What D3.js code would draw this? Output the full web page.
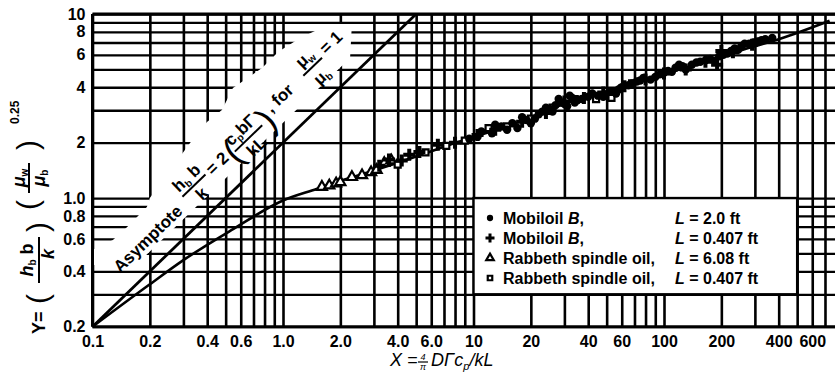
<!DOCTYPE html>
<html><head><meta charset="utf-8">
<script src="https://cdn.jsdelivr.net/npm/d3@7"></script>
<style>html,body{margin:0;padding:0;background:#fff;} svg{display:block;}</style>
</head><body>
<svg id="chart" width="835" height="377"></svg>
<script>
// ---------- data ----------
const xTickValues = [0.1,0.2,0.4,0.6,1,2,4,6,10,20,40,60,100,200,400,600];
const xTickLabels = ["0.1","0.2","0.4","0.6","1.0","2.0","4.0","6.0","10","20","40","60","100","200","400","600"];
const yTickValues = [0.2,0.4,0.6,0.8,1,2,4,6,8,10];
const yTickLabels = ["0.2","0.4","0.6","0.8","1.0","2","4","6","8","10"];
const xGridValues = [0.1,0.2,0.3,0.4,0.5,0.6,0.7,0.8,0.9,1,2,3,4,5,6,7,8,9,10,20,30,40,50,60,70,80,90,100,200,300,400,500,600,700,800];
const yGridValues = [0.2,0.3,0.4,0.5,0.6,0.7,0.8,0.9,1,2,3,4,5,6,7,8,9,10];

// asymptote Y = 2X
const asymX = [0.1, 5];
const asymY = [0.2, 10];
// correlation curve
const curveX = [0.1, 0.2, 0.3, 0.55, 1.0, 1.5, 2, 3, 5, 7, 10, 15, 20, 30, 50, 80, 125, 190, 280, 400, 740];
const curveY = [0.2, 0.34, 0.46, 0.68, 0.97, 1.12, 1.24, 1.41, 1.68, 1.9, 2.15, 2.45, 2.75, 3.25, 3.8, 4.4, 5.05, 5.75, 6.55, 7.3, 9.2];

// series
const mobil20X = [9.5,10.5,11,12.5,13,14,15,16,17,18,19,20,21,22,23,24,25,26,27,28,29,30,31,32,33,34,35,37,40,42,45,48,52,56,58,60,65,68,72,75,78,85,90,95,100,105,110,115,120,125,130,140,148,155,165,175,185,195,205,215,225,235,245,255,265,280,295,310,325,340,370];
const mobil20Y = [2.1,2.15,2.3,2.25,2.5,2.45,2.35,2.55,2.4,2.75,2.65,2.55,2.7,2.85,2.95,3.1,3.05,2.95,3.2,3.45,3.3,3.25,3.15,3.6,3.5,3.3,3.4,3.45,3.55,3.7,3.6,3.55,3.8,3.7,3.9,4.0,4.1,4.2,4.3,4.35,4.5,4.4,4.55,4.7,4.8,4.9,4.85,5.1,5.3,5.2,5.0,5.3,5.45,5.5,5.6,5.7,5.55,5.9,6.0,6.1,6.3,6.5,6.4,6.7,6.9,6.9,7.0,7.1,7.2,7.3,7.4];
const mobil04X = [3.2,3.6,4.2,4.6,5.2,6.5,8,10.5,13,18,24,30,38,48,62,80,100,130,165,190,200,230,290];
const mobil04Y = [1.5,1.62,1.6,1.72,1.78,1.95,2.0,2.2,2.35,2.6,2.9,3.35,3.5,3.75,4.05,4.4,4.75,5.0,5.5,5.3,6.3,6.2,6.8];
const rab608X = [1.6,1.75,1.9,2.0,2.3,2.6,2.9,3.1,3.4,3.7];
const rab608Y = [1.15,1.17,1.2,1.22,1.3,1.33,1.38,1.42,1.55,1.6];
const rab04X = [4.0,5.6,7.2,9,12,15,20,26,34,44,53,68];
const rab04Y = [1.52,1.77,1.92,2.05,2.4,2.45,2.7,3.1,3.45,3.45,3.5,4.2];

const legendNames = ["Mobiloil ", "Mobiloil ", "Rabbeth spindle oil,", "Rabbeth spindle oil,"];
const legendItalic = ["B", "B", "", ""];
const legendL = ["2.0 ft", "0.407 ft", "6.08 ft", "0.407 ft"];
const legendSymbols = ["circle", "plus", "triangle", "square"];

// white band behind the asymptote note (data units)
const bandX = [0.1,0.1,0.128,0.152,0.193,0.2,0.325,0.399,0.478,0.546,0.776,0.942,1.23,1.76,2.30,2.25,0.169];
const bandY = [0.433,0.522,0.592,0.696,0.894,1.0,1.99,2.59,3.01,3.96,5.09,6.22,7.41,8.83,8.83,5.77,0.433];
// legend box corners (data units)
const legendBoxX = [10, 500];
const legendBoxY = [0.3, 1.0];

// ---------- drawing ----------
const svg = d3.select("#chart");
const x = d3.scaleLog().domain([0.1, 1000]).range([92.5, 854.5]);
const y = d3.scaleLog().domain([0.2, 10]).range([326.7, 14]);
const FONT = "'Liberation Sans', Arial, sans-serif";

// grid via axes
svg.append("g").attr("transform", `translate(0,${y(0.2)})`)
  .call(d3.axisBottom(x).tickValues(xGridValues).tickSize(-(y(0.2) - y(10))).tickFormat(""))
  .call(g => g.select(".domain").remove())
  .call(g => g.selectAll("line").attr("stroke", "#000").attr("stroke-width", 2.6));
svg.append("g").attr("transform", `translate(${x(0.1)},0)`)
  .call(d3.axisLeft(y).tickValues(yGridValues).tickSize(-(x(1000) - x(0.1))).tickFormat(""))
  .call(g => g.select(".domain").remove())
  .call(g => g.selectAll("line").attr("stroke", "#000").attr("stroke-width", 2.3));

// white band
svg.append("path")
  .attr("d", d3.line()(bandX.map((d, i) => [x(d), y(bandY[i])])) + "Z")
  .attr("fill", "#fff");

// legend box
svg.append("rect")
  .attr("x", x(legendBoxX[0])).attr("y", y(legendBoxY[1]))
  .attr("width", x(legendBoxX[1]) - x(legendBoxX[0]))
  .attr("height", y(legendBoxY[0]) - y(legendBoxY[1]))
  .attr("fill", "#fff").attr("stroke", "#000").attr("stroke-width", 2.4);

// frame
svg.append("line").attr("x1", x(0.1)).attr("x2", x(0.1)).attr("y1", y(10)).attr("y2", y(0.2)).attr("stroke", "#000").attr("stroke-width", 3);
svg.append("line").attr("x1", x(0.1)).attr("x2", 840).attr("y1", y(0.2)).attr("y2", y(0.2)).attr("stroke", "#000").attr("stroke-width", 3);
svg.append("line").attr("x1", x(0.1)).attr("x2", 840).attr("y1", y(10)).attr("y2", y(10)).attr("stroke", "#000").attr("stroke-width", 3);

// lines
const lineGen = d3.line().x(d => x(d[0])).y(d => y(d[1]));
svg.append("path").attr("d", lineGen(asymX.map((d, i) => [d, asymY[i]])))
  .attr("fill", "none").attr("stroke", "#000").attr("stroke-width", 2.8);
svg.append("path").attr("d", d3.line().x(d => x(d[0])).y(d => y(d[1])).curve(d3.curveMonotoneX)(curveX.map((d, i) => [d, curveY[i]])))
  .attr("fill", "none").attr("stroke", "#000").attr("stroke-width", 2.6);

// markers
function drawMarker(g, kind, cx, cy, s) {
  if (kind === "circle") {
    g.append("circle").attr("cx", cx).attr("cy", cy).attr("r", 4.2 * s).attr("fill", "#000");
  } else if (kind === "plus") {
    g.append("path").attr("d", d3.symbol(d3.symbolCross, 80 * s * s)()).attr("transform", `translate(${cx},${cy})`).attr("fill", "#000");
  } else if (kind === "triangle") {
    g.append("path").attr("d", d3.symbol(d3.symbolTriangle, 44 * s * s)()).attr("transform", `translate(${cx},${cy})`)
      .attr("fill", "#fff").attr("stroke", "#000").attr("stroke-width", 2.2);
  } else {
    g.append("path").attr("d", d3.symbol(d3.symbolSquare, 36 * s * s)()).attr("transform", `translate(${cx},${cy})`)
      .attr("fill", "#fff").attr("stroke", "#000").attr("stroke-width", 2.2);
  }
}
const mg = svg.append("g");
rab608X.forEach((d, i) => drawMarker(mg, "triangle", x(d), y(rab608Y[i]), 1));
rab04X.forEach((d, i) => drawMarker(mg, "square", x(d), y(rab04Y[i]), 1));
mobil04X.forEach((d, i) => drawMarker(mg, "plus", x(d), y(mobil04Y[i]), 1));
mobil20X.forEach((d, i) => drawMarker(mg, "circle", x(d), y(mobil20Y[i]), 1));

// tick labels via axes
svg.append("g").attr("transform", `translate(0,${y(0.2)})`)
  .call(d3.axisBottom(x).tickValues(xTickValues).tickSize(0).tickPadding(5).tickFormat((d, i) => xTickLabels[i]))
  .call(g => g.select(".domain").remove())
  .call(g => g.selectAll("text").attr("font-family", FONT).attr("font-size", 16).attr("font-weight", "bold").attr("fill", "#000").attr("dy", "0.95em"));
svg.append("g").attr("transform", `translate(${x(0.1) - 7},0)`)
  .call(d3.axisLeft(y).tickValues(yTickValues).tickSize(0).tickPadding(0).tickFormat((d, i) => yTickLabels[i]))
  .call(g => g.select(".domain").remove())
  .call(g => g.selectAll("text").attr("font-family", FONT).attr("font-size", 16).attr("font-weight", "bold").attr("fill", "#000"));

// legend
const lg = svg.append("g").attr("font-family", FONT).attr("font-size", 16).attr("font-weight", "bold");
legendNames.forEach((name, i) => {
  const by = 224 + i * 20;
  drawMarker(lg, legendSymbols[i], 490, by - 6, 0.75);
  const t = lg.append("text").attr("x", 503).attr("y", by);
  t.append("tspan").text(name);
  if (legendItalic[i]) { t.append("tspan").attr("font-style", "italic").text(legendItalic[i]); t.append("tspan").text(","); }
  const t2 = lg.append("text").attr("x", 675).attr("y", by);
  t2.append("tspan").attr("font-style", "italic").text("L");
  t2.append("tspan").text(" = " + legendL[i]);
});

function frac(g, cx, nb, bar, db, w, num, den, dcx) {
  const n = g.append("text").attr("x", cx).attr("y", nb).attr("text-anchor", "middle"); num(n);
  g.append("line").attr("x1", cx - w / 2).attr("x2", cx + w / 2).attr("y1", bar).attr("y2", bar).attr("stroke", "#000").attr("stroke-width", 2);
  const d = g.append("text").attr("x", cx + (dcx || 0)).attr("y", db).attr("text-anchor", "middle"); den(d);
}

// asymptote annotation
const ang = Math.atan2(y(10) - y(0.2), x(5) - x(0.1)) * 180 / Math.PI;
const ag = svg.append("g").attr("transform", `translate(${x(0.1)},${y(0.2)}) rotate(${ang})`)
  .attr("font-family", FONT).attr("font-weight", "bold").attr("font-size", 17).attr("fill", "#000");
ag.append("text").attr("x", 57).attr("y", -19).text("Asymptote");
frac(ag, 171, -36, -31, -14, 32,
  t => { t.append("tspan").text("h"); t.append("tspan").attr("font-size", 10).attr("dy", 3).text("b"); t.append("tspan").attr("dy", -3).text(" b"); },
  t => t.text("k"));
ag.append("text").attr("x", 191).attr("y", -25).text("= 2");
ag.append("text").attr("x", 216).attr("y", -16).attr("font-size", 36).attr("font-weight", "normal").text("(");
frac(ag, 243, -33, -27, -10, 38,
  t => { t.append("tspan").text("c"); t.append("tspan").attr("font-size", 10).attr("dy", 3).text("p"); t.append("tspan").attr("dy", -3).text("bΓ"); },
  t => t.text("kL"));
ag.append("text").attr("x", 263).attr("y", -16).attr("font-size", 36).attr("font-weight", "normal").text(")");
ag.append("text").attr("x", 277).attr("y", -29).text(", for");
frac(ag, 339, -40, -34, -15, 26,
  t => { t.append("tspan").text("μ"); t.append("tspan").attr("font-size", 10).attr("dy", 3).text("w"); },
  t => { t.append("tspan").text("μ"); t.append("tspan").attr("font-size", 10).attr("dy", 3).text("b"); });
ag.append("text").attr("x", 357).attr("y", -33).text("= 1");

// y-axis title
const yt = svg.append("g").attr("transform", "translate(38,210) rotate(-90)")
  .attr("font-family", FONT).attr("font-weight", "bold").attr("font-size", 18).attr("fill", "#000");
yt.append("text").attr("x", -124).attr("y", 7).text("Y=");
yt.append("text").attr("x", -94).attr("y", 10).attr("font-size", 30).attr("font-weight", "normal").text("(");
frac(yt, -50, -5, 1, 16, 46,
  t => { t.append("tspan").attr("font-style", "italic").text("h"); t.append("tspan").attr("font-size", 10).attr("dy", 3).text("b"); t.append("tspan").attr("dy", -3).text(" b"); },
  t => t.attr("font-style", "italic").text("k"), 6);
yt.append("text").attr("x", -22).attr("y", 10).attr("font-size", 30).attr("font-weight", "normal").text(")");
yt.append("text").attr("x", 0).attr("y", 0).attr("font-size", 30).attr("font-weight", "normal").text("(");
frac(yt, 32, -13, -9, 7, 30,
  t => { t.append("tspan").attr("font-style", "italic").text("μ"); t.append("tspan").attr("font-size", 10).attr("dy", 3).text("w"); },
  t => { t.append("tspan").attr("font-style", "italic").text("μ"); t.append("tspan").attr("font-size", 10).attr("dy", 3).text("b"); });
yt.append("text").attr("x", 60).attr("y", 0).attr("font-size", 30).attr("font-weight", "normal").text(")");
yt.append("text").attr("x", 86).attr("y", -19).attr("font-size", 12).text("0.25");

// x-axis title
svg.append("text").attr("x", 390).attr("y", 366).attr("font-family", FONT).attr("font-size", 18).attr("font-style", "italic").text("X =");
svg.append("text").attr("x", 423).attr("y", 360).attr("text-anchor", "middle").attr("font-family", FONT).attr("font-size", 9).attr("font-style", "italic").text("4");
svg.append("line").attr("x1", 418).attr("x2", 428).attr("y1", 362).attr("y2", 362).attr("stroke", "#000").attr("stroke-width", 1.2);
svg.append("text").attr("x", 423).attr("y", 370).attr("text-anchor", "middle").attr("font-family", FONT).attr("font-size", 9).attr("font-style", "italic").text("π");
const xt = svg.append("text").attr("x", 431).attr("y", 366).attr("font-family", FONT).attr("font-size", 18).attr("font-style", "italic").attr("fill", "#000");
xt.append("tspan").text("DΓc");
xt.append("tspan").attr("font-size", 11).attr("dy", 4).text("p");
xt.append("tspan").attr("dy", -4).text("/kL");
</script>
</body></html>
